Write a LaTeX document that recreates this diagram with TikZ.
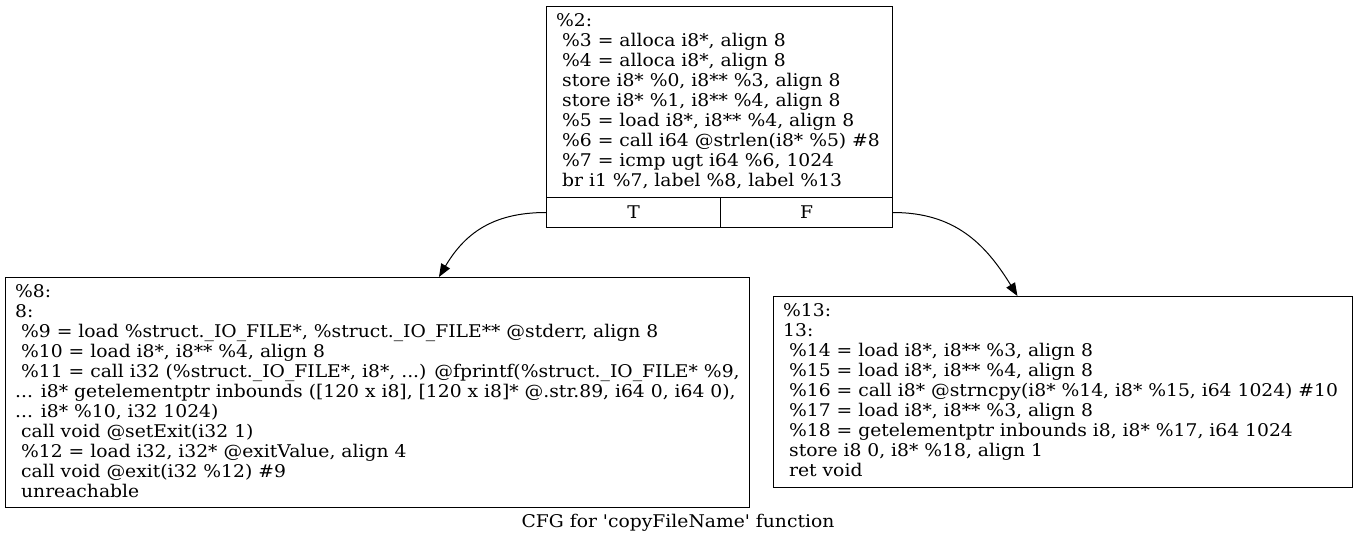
\documentclass[tikz,border=0pt]{standalone}
\usepackage{fontspec}
\setmainfont{DejaVu Serif}[Ligatures=TeXOff,FakeStretch=1.07]
\usetikzlibrary{arrows.meta,calc}
\begin{document}
\begin{tikzpicture}[x=1pt,y=-1pt,
  box/.style={draw, line width=1pt, inner sep=0pt, anchor=north west, font=\fontsize{17.5}{20}\selectfont},
  code/.style={anchor=base west, inner sep=0pt, align=left, font=\fontsize{17.5}{20}\selectfont},
  edge/.style={line width=1pt, -{Triangle[length=13pt,width=10pt]}},
]
\useasboundingbox (0,0) rectangle (1357,544);
% top block
\node[box, minimum width=346pt, minimum height=191pt] (b2) at (546,6) {};
\node[box, minimum width=174pt, minimum height=30pt] (tcell) at (546,197) {T};
\node[box, minimum width=172pt, minimum height=30pt] (fcell) at (720,197) {F};
\node[code] (t2) at (556,186.5) {\%2:\\
\ \%3 = alloca i8*, align 8\\
\ \%4 = alloca i8*, align 8\\
\ store i8* \%0, i8** \%3, align 8\\
\ store i8* \%1, i8** \%4, align 8\\
\ \%5 = load i8*, i8** \%4, align 8\\
\ \%6 = call i64 @strlen(i8* \%5) \#8\\
\ \%7 = icmp ugt i64 \%6, 1024\\
\ br i1 \%7, label \%8, label \%13};
% left block
\node[box, minimum width=744pt, minimum height=230pt] (b8) at (5,277) {};
\node[code] (t8) at (15,497) {\%8:\\
8:\\
\ \%9 = load \%struct.\_IO\_FILE*, \%struct.\_IO\_FILE** @stderr, align 8\\
\ \%10 = load i8*, i8** \%4, align 8\\
\ \%11 = call i32 (\%struct.\_IO\_FILE*, i8*, ...) @fprintf(\%struct.\_IO\_FILE* \%9,\\
... i8* getelementptr inbounds ([120 x i8], [120 x i8]* @.str.89, i64 0, i64 0),\\
... i8* \%10, i32 1024)\\
\ call void @setExit(i32 1)\\
\ \%12 = load i32, i32* @exitValue, align 4\\
\ call void @exit(i32 \%12) \#9\\
\ unreachable};
% right block
\node[box, minimum width=579pt, minimum height=191pt] (b13) at (773,296) {};
\node[code] (t13) at (783,476.5) {\%13:\\
13:\\
\ \%14 = load i8*, i8** \%3, align 8\\
\ \%15 = load i8*, i8** \%4, align 8\\
\ \%16 = call i8* @strncpy(i8* \%14, i8* \%15, i64 1024) \#10\\
\ \%17 = load i8*, i8** \%3, align 8\\
\ \%18 = getelementptr inbounds i8, i8* \%17, i64 1024\\
\ store i8 0, i8* \%18, align 1\\
\ ret void};
% edges
\coordinate (e8) at ($(b8.north west)!0.5825!(b8.north east)$);
\coordinate (e13) at ($(b13.north west)!0.4215!(b13.north east)$);
\draw[edge] (tcell.west) .. controls +(-55,0) and +(25,-42) .. (e8);
\draw[edge] (fcell.east) .. controls +(62,0) and +(-32,-52) .. (e13);
% caption
\node[anchor=base, inner sep=0pt, font=\fontsize{17.5}{20}\selectfont] (cap) at (678,527) {CFG for 'copyFileName' function};
\end{tikzpicture}
\end{document}
